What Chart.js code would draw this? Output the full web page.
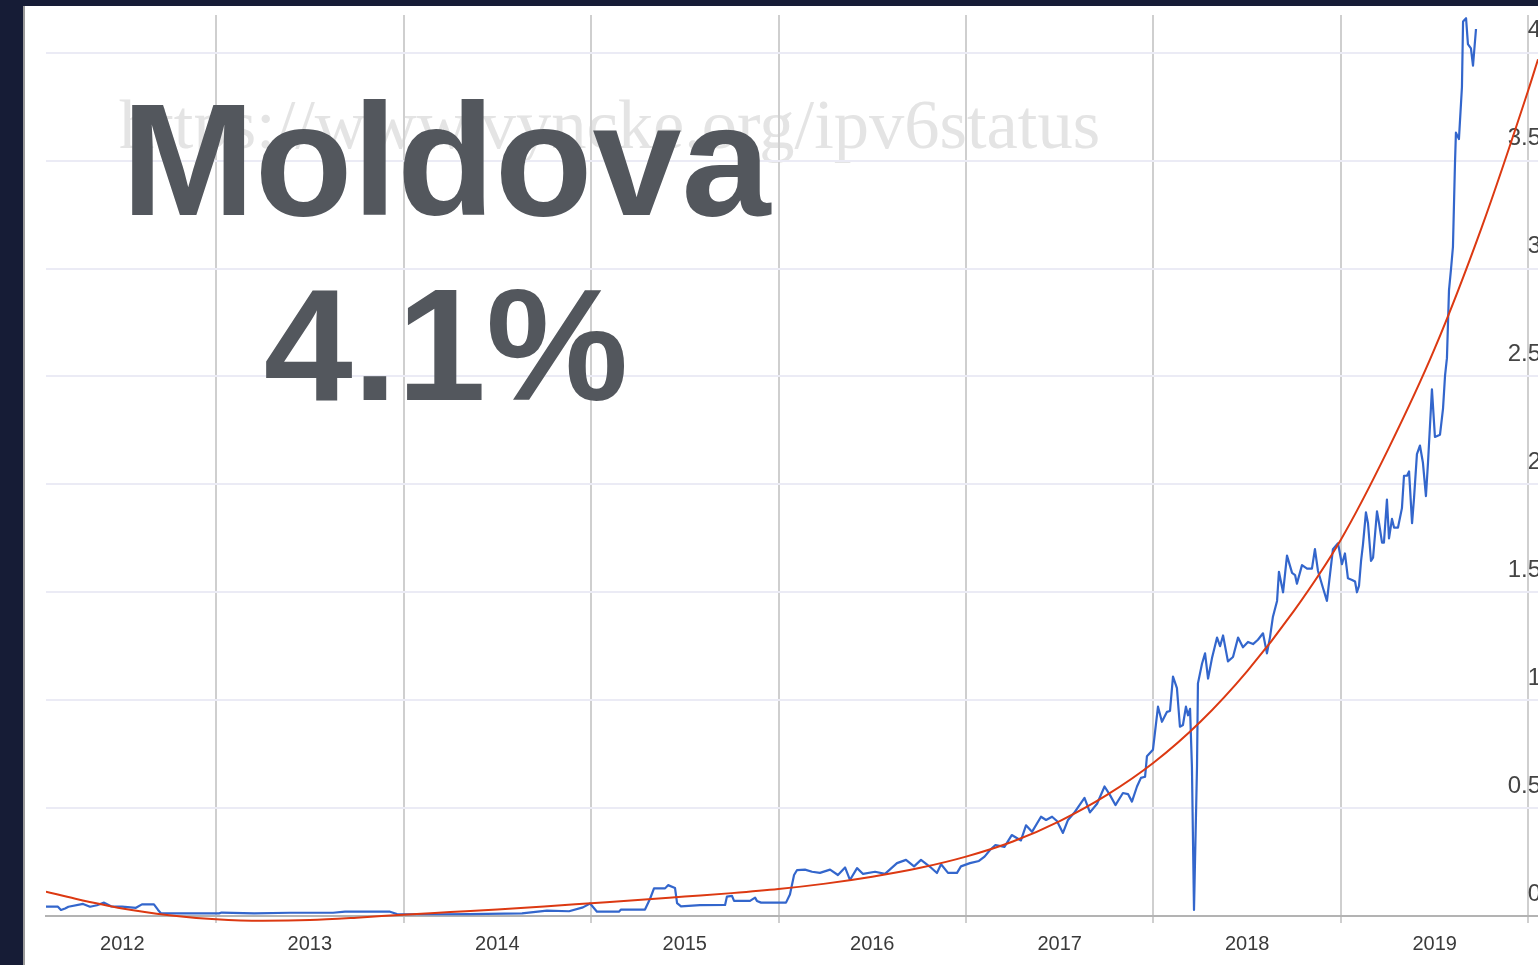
<!DOCTYPE html>
<html>
<head>
<meta charset="utf-8">
<script src="https://cdn.jsdelivr.net/npm/chart.js@4.4.0/dist/chart.umd.min.js"></script>
<style>
  html, body { margin: 0; padding: 0; background: #161c36; overflow: hidden; }
  #frame {
    position: absolute; left: 23px; top: 6px; width: 1515px; height: 959px;
    background: #fff; border-left: 2px solid #9a9a9a; box-sizing: border-box; overflow: hidden;
  }
  #chart { position: absolute; left: 0; top: 0; z-index: 1; }
  .watermark {
    position: absolute; left: 94px; top: 83px; z-index: 0; white-space: nowrap;
    font: 70.5px/70px "Liberation Serif", "Times New Roman", serif; color: #e4e4e4;
  }
  .big {
    position: absolute; left: 421px; transform: translateX(-50%); z-index: 2; white-space: nowrap;
    font: bold 160px/160px "Liberation Sans", Arial, sans-serif; color: #53575d;
  }
</style>
</head>
<body>
<div id="frame">
  <div class="watermark">https://www.vyncke.org/ipv6status</div>
  <canvas id="chart" width="1513" height="959"></canvas>
  <div class="big" style="top:74px">Moldova</div>
  <div class="big" style="top:259px">4.1%</div>
</div>
<script>
// IPv6 share in Moldova (%), x = decimal year
const blueYears = [
  2012.093, 2012.157, 2012.173, 2012.195, 2012.213, 2012.291, 2012.328, 2012.365, 2012.403, 2012.44,
  2012.499, 2012.573, 2012.605, 2012.669, 2012.691, 2012.707, 2012.787, 2013.016, 2013.03, 2013.203,
  2013.395, 2013.624, 2013.688, 2013.928, 2013.965, 2014.195, 2014.349, 2014.632, 2014.765, 2014.883,
  2014.957, 2014.995, 2015.032, 2015.149, 2015.16, 2015.288, 2015.315, 2015.336, 2015.395, 2015.411,
  2015.448, 2015.459, 2015.48, 2015.581, 2015.715, 2015.725, 2015.752, 2015.763, 2015.848, 2015.875,
  2015.885, 2015.907, 2016.04, 2016.061, 2016.083, 2016.099, 2016.141, 2016.179, 2016.221, 2016.275,
  2016.317, 2016.355, 2016.381, 2016.419, 2016.451, 2016.515, 2016.568, 2016.632, 2016.68, 2016.723,
  2016.76, 2016.808, 2016.845, 2016.867, 2016.904, 2016.952, 2016.973, 2017.021, 2017.069, 2017.099,
  2017.128, 2017.157, 2017.205, 2017.244, 2017.293, 2017.32, 2017.352, 2017.4, 2017.427, 2017.459,
  2017.485, 2017.517, 2017.544, 2017.576, 2017.632, 2017.661, 2017.699, 2017.739, 2017.768, 2017.797,
  2017.837, 2017.864, 2017.885, 2017.912, 2017.933, 2017.955, 2017.965, 2017.997, 2018.024, 2018.045,
  2018.072, 2018.088, 2018.104, 2018.125, 2018.141, 2018.157, 2018.173, 2018.184, 2018.195, 2018.205,
  2018.216, 2018.232, 2018.237, 2018.259, 2018.275, 2018.291, 2018.312, 2018.339, 2018.355, 2018.371,
  2018.397, 2018.424, 2018.451, 2018.477, 2018.504, 2018.531, 2018.557, 2018.584, 2018.605, 2018.621,
  2018.637, 2018.659, 2018.669, 2018.691, 2018.712, 2018.739, 2018.755, 2018.765, 2018.792, 2018.819,
  2018.845, 2018.861, 2018.877, 2018.904, 2018.925, 2018.957, 2018.984, 2019.005, 2019.021, 2019.037,
  2019.059, 2019.075, 2019.085, 2019.096, 2019.107, 2019.117, 2019.133, 2019.144, 2019.16, 2019.171,
  2019.192, 2019.203, 2019.219, 2019.229, 2019.245, 2019.256, 2019.272, 2019.283, 2019.304, 2019.325,
  2019.336, 2019.352, 2019.363, 2019.379, 2019.389, 2019.405, 2019.421, 2019.437, 2019.453, 2019.464,
  2019.485, 2019.501, 2019.528, 2019.544, 2019.555, 2019.565, 2019.576, 2019.587, 2019.597, 2019.608,
  2019.613, 2019.629, 2019.645, 2019.651, 2019.667, 2019.677, 2019.693, 2019.704, 2019.72
];
const blueValues = [
  0.043, 0.043, 0.028, 0.035, 0.043, 0.056, 0.043, 0.05, 0.062, 0.045,
  0.043, 0.038, 0.054, 0.054, 0.028, 0.012, 0.012, 0.012, 0.016, 0.012,
  0.015, 0.015, 0.02, 0.02, 0.009, 0.008, 0.009, 0.012, 0.025, 0.022,
  0.04, 0.058, 0.02, 0.02, 0.03, 0.03, 0.08, 0.128, 0.128, 0.143,
  0.13, 0.06, 0.045, 0.05, 0.051, 0.09, 0.093, 0.07, 0.07, 0.085,
  0.07, 0.062, 0.062, 0.1, 0.19, 0.213, 0.215, 0.205, 0.2, 0.215,
  0.19, 0.225, 0.167, 0.222, 0.195, 0.205, 0.195, 0.245, 0.26, 0.23,
  0.26, 0.228, 0.199, 0.24, 0.2, 0.2, 0.23, 0.245, 0.255, 0.275,
  0.306, 0.329, 0.32, 0.375, 0.35, 0.42, 0.39, 0.46, 0.445, 0.46,
  0.44, 0.385, 0.445, 0.477, 0.547, 0.48, 0.52, 0.6, 0.56, 0.514,
  0.57, 0.565, 0.53, 0.6, 0.64, 0.645, 0.74, 0.77, 0.97, 0.9,
  0.946, 0.95, 1.109, 1.056, 0.877, 0.885, 0.97, 0.93, 0.96, 0.69,
  0.028, 0.69, 1.078, 1.17, 1.217, 1.1, 1.195, 1.29, 1.25, 1.3,
  1.18, 1.2, 1.29, 1.245, 1.27, 1.26, 1.28, 1.31, 1.217, 1.29,
  1.387, 1.46, 1.595, 1.5, 1.67, 1.59, 1.58, 1.54, 1.626, 1.61,
  1.61, 1.7, 1.6, 1.52, 1.46, 1.7, 1.727, 1.63, 1.68, 1.565,
  1.557, 1.55, 1.5, 1.53, 1.645, 1.72, 1.87, 1.82, 1.645, 1.66,
  1.875, 1.82, 1.73, 1.73, 1.93, 1.75, 1.84, 1.8, 1.8, 1.89,
  2.04, 2.04, 2.06, 1.82, 1.93, 2.14, 2.18, 2.1, 1.946, 2.1,
  2.44, 2.22, 2.23, 2.35, 2.505, 2.585, 2.9, 3.0, 3.1, 3.49,
  3.63, 3.6, 3.84, 4.145, 4.16, 4.04, 4.02, 3.94, 4.11
];

// trend line
const trendYears = [
  2012.093, 2012.25, 2012.5, 2012.75, 2013.0, 2013.25, 2013.5, 2013.75, 2014.0, 2014.25,
  2014.5, 2014.75, 2015.0, 2015.25, 2015.5, 2015.75, 2016.0, 2016.25, 2016.5, 2016.75,
  2017.0, 2017.25, 2017.5, 2017.75, 2018.0, 2018.25, 2018.5, 2018.75, 2019.0, 2019.25,
  2019.5, 2019.75, 2020.0, 2020.051
];
const trendValues = [
  0.113, 0.08, 0.035, 0.004, -0.015, -0.022, -0.019, -0.008, 0.006, 0.018,
  0.03, 0.044, 0.059, 0.074, 0.09, 0.106, 0.125, 0.15, 0.182, 0.222,
  0.275, 0.345, 0.44, 0.56, 0.71, 0.9, 1.135, 1.415, 1.745, 2.16,
  2.63, 3.19, 3.83, 3.97
];

const gridYears = [2013, 2014, 2015, 2016, 2017, 2018, 2019, 2020];
const labelYears = [2012.5, 2013.5, 2014.5, 2015.5, 2016.5, 2017.5, 2018.5, 2019.5];
const yearLabels = ['2012', '2013', '2014', '2015', '2016', '2017', '2018', '2019'];
const yTicks = [0, 0.5, 1, 1.5, 2, 2.5, 3, 3.5, 4];
const yTickLabels = ['0', '0.5', '1', '1.5', '2', '2.5', '3', '3.5', '4'];

const xMin = 2012.0933;
const xMax = 2020.0507;
const yMax = 4.175;
const sans = '"Liberation Sans", Arial, sans-serif';

const toPoints = (xs, ys) => xs.map((x, i) => ({ x: x, y: ys[i] }));
const noPad = s => { s.paddingTop = 0; s.paddingBottom = 0; s.paddingLeft = 0; s.paddingRight = 0; };

new Chart(document.getElementById('chart'), {
  type: 'line',
  data: {
    datasets: [
      {
        data: toPoints(blueYears, blueValues),
        borderColor: '#3366cc',
        borderWidth: 2.2,
        borderJoinStyle: 'round',
        pointRadius: 0,
        tension: 0,
        xAxisID: 'x',
        yAxisID: 'y',
        order: 2
      },
      {
        data: toPoints(trendYears, trendValues),
        borderColor: '#dc3912',
        borderWidth: 2,
        pointRadius: 0,
        cubicInterpolationMode: 'monotone',
        clip: { left: 0, top: 0, right: 0, bottom: 8 },
        xAxisID: 'x',
        yAxisID: 'y',
        order: 1
      }
    ]
  },
  options: {
    responsive: false,
    animation: false,
    devicePixelRatio: 1,
    layout: { padding: { left: 21, top: 9, right: 0, bottom: 0 } },
    plugins: { legend: { display: false }, tooltip: { enabled: false } },
    scales: {
      x: {
        type: 'linear',
        position: 'bottom',
        weight: 0,
        min: xMin,
        max: xMax,
        afterBuildTicks: s => { s.ticks = gridYears.map(v => ({ value: v })); },
        afterFit: s => { s.height = 7; noPad(s); },
        grid: { color: '#cfcfcf', lineWidth: 2, tickLength: 7 },
        border: { display: true, color: '#b3b3b3', width: 2 },
        ticks: { display: false }
      },
      xl: {
        type: 'linear',
        position: 'bottom',
        weight: 1,
        min: xMin,
        max: xMax,
        afterBuildTicks: s => { s.ticks = labelYears.map(v => ({ value: v })); },
        afterFit: s => { s.height = 42; noPad(s); },
        grid: { display: false, drawTicks: false },
        border: { display: false },
        ticks: {
          autoSkip: false,
          maxRotation: 0,
          padding: 9,
          color: '#3a3a3a',
          font: { family: sans, size: 20 },
          callback: (v, i) => yearLabels[i]
        }
      },
      y: {
        position: 'right',
        min: 0,
        max: yMax,
        afterBuildTicks: s => { s.ticks = yTicks.map(v => ({ value: v })); },
        afterFit: s => { s.width = 0; noPad(s); },
        grid: {
          color: c => (c.tick && c.tick.value === 0) ? 'rgba(0,0,0,0)' : '#ebebf5',
          lineWidth: 2,
          drawTicks: false
        },
        border: { display: false },
        ticks: {
          mirror: true,
          padding: 3,
          labelOffset: -22,
          color: '#444444',
          font: { family: sans, size: 24 },
          callback: (v, i) => yTickLabels[i]
        }
      }
    }
  }
});
</script>
</body>
</html>
